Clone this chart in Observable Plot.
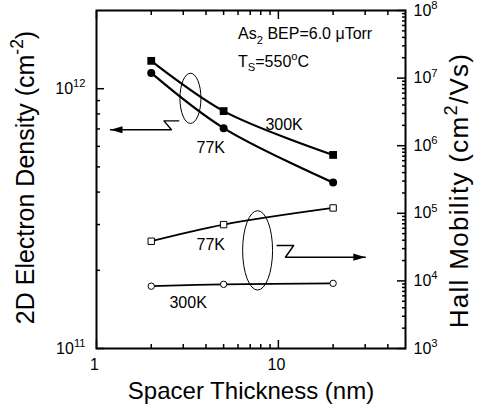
<!DOCTYPE html>
<html>
<head>
<meta charset="utf-8">
<script src="https://cdn.jsdelivr.net/npm/d3@7"></script>
<script src="https://cdn.jsdelivr.net/npm/@observablehq/plot@0.6"></script>
<style>
  html, body { margin: 0; padding: 0; background: #fff; }
</style>
</head>
<body>
<div id="chart"></div>
<script>
// ---------- data ----------
const thickness = [2, 5, 20];                       // spacer thickness (nm)
const density300K = [1.28e12, 8.2e11, 5.56e11];     // 2D electron density, 300 K (cm^-2)
const density77K  = [1.15e12, 7.05e11, 4.35e11];    // 2D electron density, 77 K
const mobility77K  = [3.86e4, 6.8e4, 1.2e5];        // Hall mobility, 77 K (cm^2/Vs)
const mobility300K = [8.35e3, 8.9e3, 9.2e3];        // Hall mobility, 300 K

const xDomain = [1, 50];
const leftDomain = [1e11, 2e12];
const rightDomain = [1e3, 1e8];

const xTicksMajor = [1, 10];
const xTicksMinor = [2, 3, 4, 5, 6, 7, 8, 9, 20, 30, 40];
const leftTicksMajor = [1e11, 1e12];
const leftTicksMinor = [2e11, 3e11, 4e11, 5e11, 6e11, 7e11, 8e11, 9e11];
const rightExponents = [3, 4, 5, 6, 7, 8];
const rightMinorMultipliers = [2, 3, 4, 5, 6, 7, 8, 9];

const xLabel = "Spacer Thickness (nm)";
const leftLabel = "2D Electron Density (cm^{-2})";
const rightLabel = "Hall Mobility (cm^{2}/Vs)";

// annotation texts
const noteLines = ["As_{2} BEP=6.0 μTorr", "T_{S}=550^{o}C"];
const noteX = [6.0, 6.0];
const noteY = [1.62e12, 1.27e12];

const densityLabels = ["300K", "77K"];
const densityLabelX = [10.75, 4.25];
const densityLabelY = [7.26e11, 5.9e11];
const mobilityLabels = ["77K", "300K"];
const mobilityLabelX = [4.25, 3.19];
const mobilityLabelY = [3.45e4, 4.71e3];

// ellipses (bounding boxes) grouping the curves
const ellipseDensity = {x1: 2.894, x2: 3.776, y1: 1.142e12, y2: 7.32e11};
const ellipseMobility = {x1: 6.40, x2: 9.35, y1: 1.074e5, y2: 7.21e3};

// zig-zag arrows pointing to the relevant axis
const arrowLeftX = [2.833, 2.349, 2.583, 1.194];
const arrowLeftY = [7.52e11, 7.52e11, 6.95e11, 6.95e11];
const arrowRightX = [9.84, 12.14, 10.93, 30.06];
const arrowRightY = [3.34e4, 3.34e4, 2.24e4, 2.24e4];

// ---------- helpers ----------
const L0 = Math.log10(leftDomain[0]), L1 = Math.log10(leftDomain[1]);
const R0 = Math.log10(rightDomain[0]), R1 = Math.log10(rightDomain[1]);
const toLeft = (m) => Math.pow(10, L0 + (Math.log10(m) - R0) / (R1 - R0) * (L1 - L0));
const rightExp = (d) => R0 + (Math.log10(d) - L0) / (L1 - L0) * (R1 - R0);

const rows = (xs, ys) => xs.map((x, i) => ({x, y: ys[i]}));
const d300 = rows(thickness, density300K);
const d77 = rows(thickness, density77K);
const m77 = rows(thickness, mobility77K.map(toLeft));
const m300 = rows(thickness, mobility300K.map(toLeft));
const arrowL = rows(arrowLeftX, arrowLeftY);
const arrowR = rows(arrowRightX, arrowRightY.map(toLeft));

const rightMajor = rightExponents.map((e) => toLeft(Math.pow(10, e)));
const rightMinor = rightExponents.slice(0, -1).flatMap((e) => rightMinorMultipliers.map((k) => toLeft(k * Math.pow(10, e))));

const arrowHeadLeft = {draw(ctx) { ctx.moveTo(0, 0); ctx.lineTo(12, -3.6); ctx.lineTo(12, 3.6); ctx.closePath(); }};
const arrowHeadRight = {draw(ctx) { ctx.moveTo(0, 0); ctx.lineTo(-12, -3.6); ctx.lineTo(-12, 3.6); ctx.closePath(); }};

const ellipses = [ellipseDensity, {...ellipseMobility, y1: toLeft(ellipseMobility.y1), y2: toLeft(ellipseMobility.y2)}];
function ellipseMark(index, scales) {
  const g = d3.create("svg:g").attr("aria-label", "ellipse");
  for (const b of ellipses) {
    const x1 = scales.x(b.x1), x2 = scales.x(b.x2), y1 = scales.y(b.y1), y2 = scales.y(b.y2);
    g.append("ellipse")
      .attr("cx", (x1 + x2) / 2).attr("cy", (y1 + y2) / 2)
      .attr("rx", Math.abs(x2 - x1) / 2).attr("ry", Math.abs(y2 - y1) / 2)
      .attr("fill", "none").attr("stroke", "#000").attr("stroke-width", 1);
  }
  return g.node();
}

const tickStyle = {stroke: "#000", strokeWidth: 1.5, fill: "none", label: null};
const textStyle = {tickSize: 0, fontSize: 16, stroke: "none", label: null};

const chart = Plot.plot({
  width: 482,
  height: 411,
  marginTop: 10,
  marginBottom: 63,
  marginLeft: 96,
  marginRight: 77,
  style: {fontFamily: "'Liberation Sans', Arial, Helvetica, sans-serif", fontSize: "16px", background: "#fff", color: "#000", overflow: "visible"},
  x: {type: "log", domain: xDomain, axis: null},
  y: {type: "log", domain: leftDomain, axis: null},
  marks: [
    // ticks (inward)
    Plot.axisX(xTicksMajor, {anchor: "bottom", tickSize: 8, dy: -8, ...tickStyle}),
    Plot.axisX(xTicksMinor, {anchor: "bottom", tickSize: 4, dy: -4, ...tickStyle}),
    Plot.axisX(xTicksMajor, {anchor: "top", tickSize: 8, dy: 8, ...tickStyle}),
    Plot.axisX(xTicksMinor, {anchor: "top", tickSize: 4, dy: 4, ...tickStyle}),
    Plot.axisY(leftTicksMajor, {anchor: "left", tickSize: 8, dx: 8, ...tickStyle}),
    Plot.axisY(leftTicksMinor, {anchor: "left", tickSize: 4, dx: 4, ...tickStyle}),
    Plot.axisY(rightMajor, {anchor: "right", tickSize: 9, dx: -9, ...tickStyle}),
    Plot.axisY(rightMinor, {anchor: "right", tickSize: 4, dx: -4, ...tickStyle}),
    // tick labels
    Plot.axisX(xTicksMajor, {anchor: "bottom", tickPadding: 10, tickFormat: (d) => String(d), dx: -2, ...textStyle}),
    Plot.axisY(leftTicksMajor, {anchor: "left", tickPadding: 11, tickFormat: (d) => `10^{${Math.round(Math.log10(d))}}`, ...textStyle}),
    Plot.axisY(rightMajor, {anchor: "right", tickPadding: 8, tickFormat: (d) => `10^{${Math.round(rightExp(d))}}`, ...textStyle}),
    Plot.frame({stroke: "#000", strokeWidth: 2}),
    // axis titles
    Plot.text([xLabel], {frameAnchor: "bottom", textAnchor: "middle", lineAnchor: "middle", dy: 43, fontSize: 24}),
    Plot.text([leftLabel], {frameAnchor: "left", textAnchor: "middle", lineAnchor: "middle", rotate: -90, dx: -71, dy: -2, fontSize: 25}),
    Plot.text([rightLabel], {frameAnchor: "right", textAnchor: "middle", lineAnchor: "middle", rotate: -90, dx: 54, dy: 11, fontSize: 26}),
    // data lines
    Plot.line(d300, {x: "x", y: "y", curve: "catmull-rom", stroke: "#000", strokeWidth: 2.2}),
    Plot.line(d77, {x: "x", y: "y", curve: "catmull-rom", stroke: "#000", strokeWidth: 2.2}),
    Plot.line(m77, {x: "x", y: "y", curve: "catmull-rom", stroke: "#000", strokeWidth: 1.8}),
    Plot.line(m300, {x: "x", y: "y", curve: "catmull-rom", stroke: "#000", strokeWidth: 1.8}),
    // markers
    Plot.dot(d300, {x: "x", y: "y", symbol: "square", r: 4.4, fill: "#000", stroke: "none"}),
    Plot.dot(d77, {x: "x", y: "y", symbol: "circle", r: 4, fill: "#000", stroke: "none"}),
    Plot.dot(m77, {x: "x", y: "y", symbol: "square", r: 3.6, fill: "#fff", stroke: "#000", strokeWidth: 1}),
    Plot.dot(m300, {x: "x", y: "y", symbol: "circle", r: 3.2, fill: "#fff", stroke: "#000", strokeWidth: 1}),
    // annotations
    ellipseMark,
    Plot.line(arrowL, {x: "x", y: "y", stroke: "#000", strokeWidth: 1.4}),
    Plot.line(arrowR, {x: "x", y: "y", stroke: "#000", strokeWidth: 1.4}),
    Plot.dot([arrowL[arrowL.length - 1]], {x: "x", y: "y", symbol: arrowHeadLeft, r: 1, fill: "#000", stroke: "none"}),
    Plot.dot([arrowR[arrowR.length - 1]], {x: "x", y: "y", symbol: arrowHeadRight, r: 1, fill: "#000", stroke: "none"}),
    Plot.text(noteLines, {x: noteX, y: noteY, textAnchor: "start", lineAnchor: "middle", fontSize: 16}),
    Plot.text(densityLabels, {x: densityLabelX, y: densityLabelY, textAnchor: "middle", lineAnchor: "middle", fontSize: 16}),
    Plot.text(mobilityLabels, {x: mobilityLabelX, y: mobilityLabelY.map(toLeft), textAnchor: "middle", lineAnchor: "middle", fontSize: 16})
  ]
});

document.getElementById("chart").appendChild(chart);

// convert ^{..} and _{..} markup into real tspans (super/subscripts)
const SVGNS = "http://www.w3.org/2000/svg";
chart.querySelectorAll("text").forEach((t) => {
  const s = t.textContent;
  if (s.startsWith("Hall Mobility")) t.style.letterSpacing = "1.3px";
  if (!/[\^_]\{/.test(s)) return;
  const fs = parseFloat(getComputedStyle(t).fontSize) || 16;
  const parts = s.split(/(\^\{[^}]*\}|_\{[^}]*\})/).filter((p) => p.length);
  while (t.firstChild) t.removeChild(t.firstChild);
  let shift = 0;
  for (const p of parts) {
    const span = document.createElementNS(SVGNS, "tspan");
    let target = 0, content = p;
    if (p.startsWith("^{")) { target = -0.42 * fs; content = p.slice(2, -1); span.setAttribute("font-size", (0.7 * fs).toFixed(1)); }
    else if (p.startsWith("_{")) { target = 0.28 * fs; content = p.slice(2, -1); span.setAttribute("font-size", (0.7 * fs).toFixed(1)); }
    const dy = target - shift;
    if (dy !== 0) span.setAttribute("dy", dy.toFixed(2));
    shift = target;
    span.textContent = content;
    t.appendChild(span);
  }
});
</script>
</body>
</html>
